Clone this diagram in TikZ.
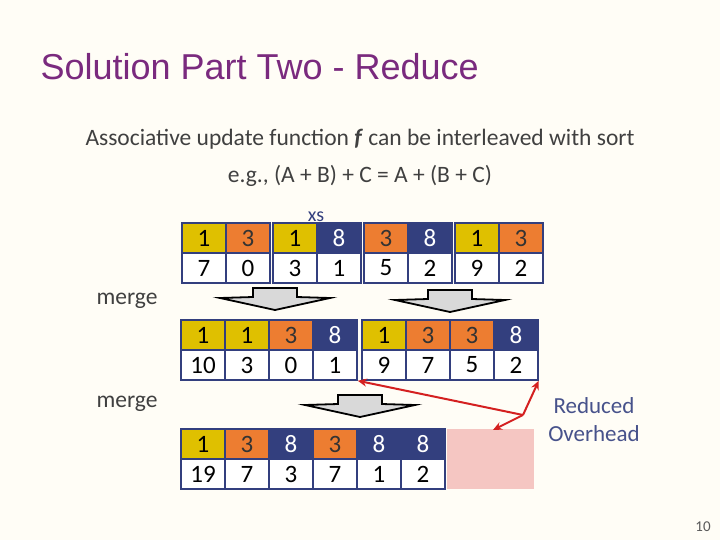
\documentclass[tikz,border=0pt]{standalone}
\usepackage{fontspec}
\setmainfont{Carlito}
\newfontfamily\titlefont{Liberation Sans}
\usetikzlibrary{arrows.meta}
\definecolor{navy}{HTML}{333F7E}
\definecolor{yel}{HTML}{DFC000}
\definecolor{org}{HTML}{ED7D31}
\definecolor{bg}{HTML}{FFFDF6}
\definecolor{ttl}{HTML}{7A2A7E}
\definecolor{pinkc}{HTML}{F5C6C2}
\definecolor{redc}{HTML}{D42020}
\tikzset{
 cell/.style={draw=navy,line width=1.5pt,minimum width=44pt,minimum height=30pt,inner sep=0pt,font=\fontsize{25}{25}\selectfont},
 Y/.style={cell,fill=yel,text=black},
 O/.style={cell,fill=org,text=black!80},
 N/.style={cell,fill=navy,text=white},
 W/.style={cell,fill=white,text=black},
 grp/.style={draw=navy,line width=2.5pt},
 blk/.style={fill=black!15,draw=black,line width=1.8pt},
 redarr/.style={draw=redc,line width=2pt,-{Stealth[length=9pt,width=8pt]}},
 lbl/.style={font=\fontsize{23.5}{23.5}\selectfont,text=black!75}
}
\newcommand{\cellrow}[5]{% prefix, x0, y0, list of style/top/bottom
 \foreach \s/\t/\b [count=\i] in {#4}{
  \node[\s] (#1t\i) at ({#2+(\i-0.5)*44},{#3+15}) {\t};
  \node[W] (#1b\i) at ({#2+(\i-0.5)*44},{#3+45}) {\b};
 }
 \draw[grp] (#2,#3) rectangle ({#2+#5*44},{#3+60});
}
\begin{document}
\begin{tikzpicture}[x=1pt,y=-1pt]
\fill[bg] (0,0) rectangle (720,540);
\useasboundingbox (0,0) rectangle (720,540);
\node[anchor=west,text=ttl,font=\titlefont\fontsize{36}{36}\selectfont] (title) at (37,67) {Solution Part Two - Reduce};
\node[lbl] (l1) at (360,139) {Associative update function \textbf{\textit{f}} can be interleaved with sort};
\node[lbl] (l2) at (360,176) {e.g., (A + B) + C = A + (B + C)};
\node[font=\fontsize{20}{20}\selectfont,text=navy] (xs) at (316,217) {xs};
\cellrow{a}{182}{223}{Y/1/7,O/3/0}{2}
\cellrow{b}{273}{223}{Y/1/3,N/8/1}{2}
\cellrow{c}{364}{223}{O/3/5,N/8/2}{2}
\cellrow{d}{455}{223}{Y/1/9,O/3/2}{2}
\node[lbl] (m1) at (127,301) {merge};
\node[lbl] (m2) at (127,404) {merge};
\cellrow{e}{181}{320}{Y/1/10,Y/1/3,O/3/0,N/8/1}{4}
\cellrow{f}{362}{320}{Y/1/9,O/3/7,O/3/5,N/8/2}{4}
\node[fill=pinkc,minimum width=87pt,minimum height=60pt,inner sep=0pt] (pk) at (490,459) {};
\cellrow{g}{181}{429}{Y/1/19,O/3/7,N/8/3,O/3/7,N/8/1,N/8/2}{6}
% block arrows
\foreach \cx/\cy/\nm in {275/288/ba1,450/290/ba2,360/395/ba3}{
 \draw[blk] (\cx-22,\cy) -- (\cx+22,\cy) -- (\cx+22,\cy+9) -- (\cx+55,\cy+10) -- (\cx,\cy+22) -- (\cx-55,\cy+10) -- (\cx-22,\cy+9) -- cycle;
 \coordinate (\nm) at (\cx,\cy);
}
\node[lbl,align=center,text=navy!90,font=\fontsize{23}{28}\selectfont] (ro) at (594,420) {Reduced\\Overhead};
\coordinate (hub) at (523,415);
\draw[redarr] (hub) -- (eb4.south east);
\draw[redarr] (hub) -- (fb4.south east);
\draw[redarr] (hub) -- (493,430);
\node[font=\fontsize{15}{15}\selectfont,text=black!65] (pg) at (703,527) {10};
\end{tikzpicture}
\end{document}
